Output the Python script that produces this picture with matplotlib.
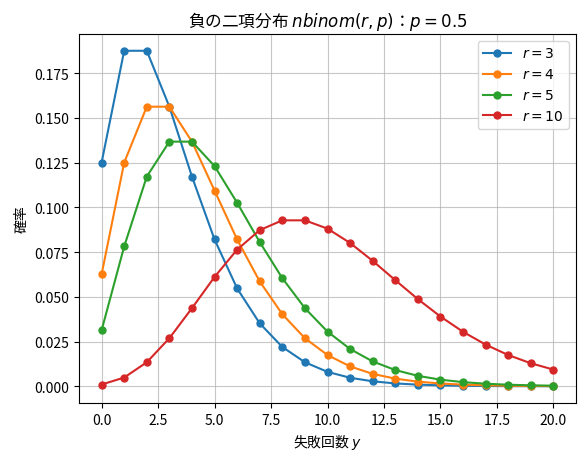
import matplotlib
matplotlib.use("Agg")
import matplotlib.pyplot as plt

plt.rcParams['font.family'] = ['Noto Sans CJK JP', 'DejaVu Sans']
plt.rcParams['axes.unicode_minus'] = False

y = list(range(21))
pmf_r3 = [0.125, 0.1875, 0.1875, 0.15625, 0.11719, 0.08203, 0.05469, 0.03516, 0.02197,
          0.01343, 0.00806, 0.00476, 0.00278, 0.00160, 0.00092, 0.00052, 0.00029,
          0.00016, 0.00009, 0.00005, 0.00003]
pmf_r4 = [0.0625, 0.125, 0.15625, 0.15625, 0.13672, 0.10938, 0.08203, 0.05859, 0.04028,
          0.02686, 0.01746, 0.01111, 0.00694, 0.00427, 0.00259, 0.00156, 0.00092,
          0.00054, 0.00032, 0.00018, 0.00011]
pmf_r5 = [0.03125, 0.07813, 0.11719, 0.13672, 0.13672, 0.12305, 0.10254, 0.08057, 0.06042,
          0.04364, 0.03055, 0.02083, 0.01389, 0.00908, 0.00584, 0.00370, 0.00231,
          0.00143, 0.00087, 0.00053, 0.00032]
pmf_r10 = [0.00098, 0.00488, 0.01343, 0.02686, 0.04364, 0.06110, 0.07637, 0.08728, 0.09274,
           0.09274, 0.08810, 0.08009, 0.07008, 0.05930, 0.04871, 0.03897, 0.03044,
           0.02328, 0.01746, 0.01287, 0.00933]
series = [("$r = 3$", pmf_r3), ("$r = 4$", pmf_r4), ("$r = 5$", pmf_r5), ("$r = 10$", pmf_r10)]

fig = plt.figure(figsize=(5.84, 4.64), dpi=100)
ax = fig.add_axes([79/584, 1-404/464, (576-79)/584, (404-35)/464])
for label, vals in series:
    ax.plot(y, vals, marker='o', markersize=5, label=label)
ax.grid(True, color='#b0b0b0', linewidth=0.8, alpha=0.7)
ax.set_title('負の二項分布 $nbinom(r, p)$：$p = 0.5$')
ax.set_xlabel('失敗回数 $y$')
ax.set_ylabel('確率')
ax.legend(loc='upper right')
fig.savefig('out.png', dpi=100)
